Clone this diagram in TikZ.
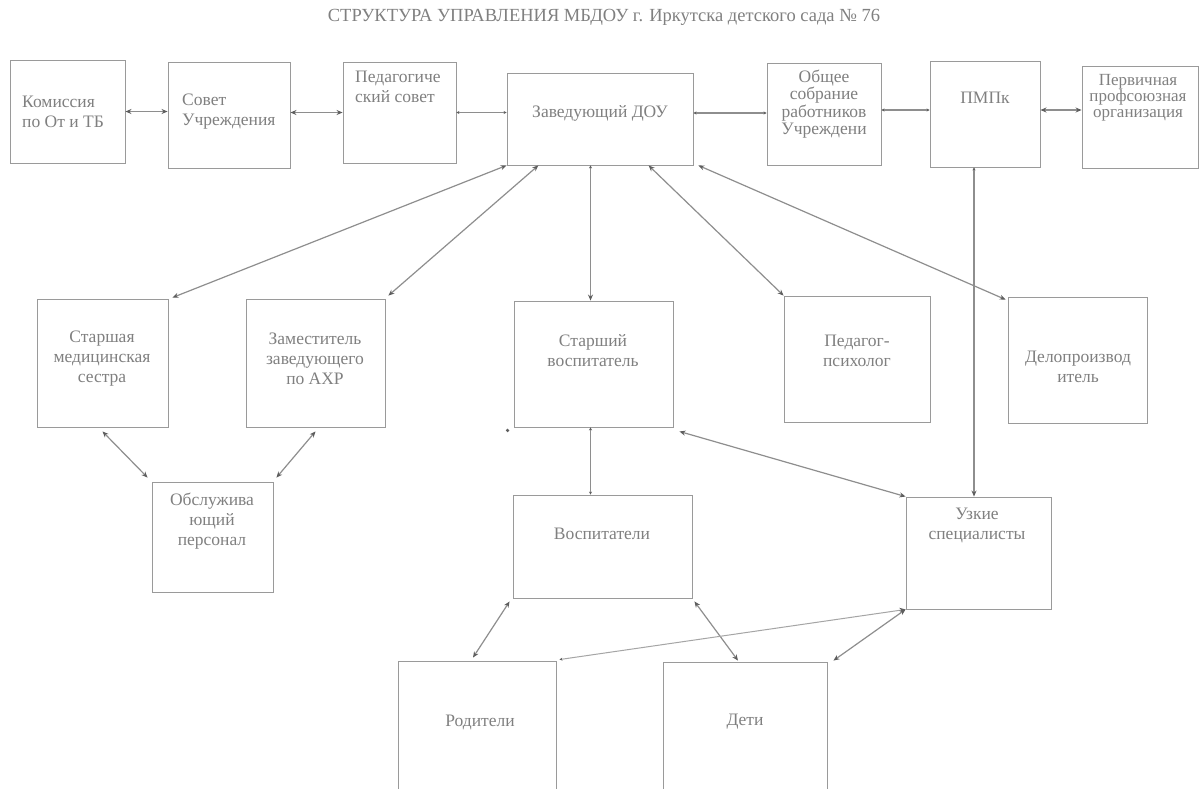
\documentclass[tikz,border=0pt]{standalone}
\usepackage{fontspec}
\setmainfont{Liberation Serif}
\usetikzlibrary{arrows.meta,calc}
\definecolor{ln}{HTML}{8E8E8E}
\definecolor{bx}{HTML}{9A9A9A}
\definecolor{tx}{HTML}{808080}
\definecolor{ah}{HTML}{5E5E5E}
\begin{document}
\begin{tikzpicture}[x=1pt,y=-1pt,
  box/.style={draw=bx, line width=0.9pt, rectangle, inner sep=0pt},
  lbl/.style={text=tx, font=\fontsize{17.5}{20}\selectfont, align=center, inner sep=0pt},
  con/.style={draw=ln, line width=1.2pt, {Stealth[length=6pt,width=5pt,color=ah]}-{Stealth[length=6pt,width=5pt,color=ah]}},
  tick/.style={draw=ln, line width=1.2pt, {Stealth[length=3pt,width=3pt,color=ah]}-{Stealth[length=3pt,width=3pt,color=ah]}},
  tickcon/.style={draw=ln, line width=1.2pt, {Stealth[length=3pt,width=3pt,color=ah]}-{Stealth[length=6pt,width=5pt,color=ah]}},
]
\useasboundingbox (0,0) rectangle (1202,788);
\fill[white] (0,0) rectangle (1202,788);
\clip (0,0) rectangle (1202,788);

% title
\node[text=tx, font=\fontsize{18.5}{20}\selectfont, inner sep=0pt] (title) at (604,17) {СТРУКТУРА УПРАВЛЕНИЯ МБДОУ г. Иркутска детского сада № 76};

% top row boxes
\node[box, minimum width=115, minimum height=103] (kom) at (67.5,111.5) {};
\node[box, minimum width=122, minimum height=106] (sov) at (229,115) {};
\node[box, minimum width=113, minimum height=101] (ped) at (399.5,112.5) {};
\node[box, minimum width=186, minimum height=92] (zav) at (600,119) {};
\node[box, minimum width=114, minimum height=102] (obs) at (824,114) {};
\node[box, minimum width=110, minimum height=106] (pmp) at (985,114) {};
\node[box, minimum width=116, minimum height=102] (prof) at (1140,117) {};

\node[lbl, align=left, anchor=west] (tkom) at (22,112) {Комиссия\\по От и ТБ};
\node[lbl, align=left, anchor=west] (tsov) at (182,112) {Совет\\Учреждения};
\node[lbl, align=left, anchor=west] (tped) at (355,87) {Педагогиче\\ский совет};
\node[lbl] (tzav) at (600,113) {Заведующий ДОУ};
\node[lbl, font=\fontsize{17.5}{17.5}\selectfont] (tobs) at (824,104) {Общее\\собрание\\работников\\Учреждени};
\node[lbl] (tpmp) at (985,98) {ПМПк};
\node[lbl, font=\fontsize{17}{16}\selectfont] (tprof) at (1138,98) {Первичная\\профсоюзная\\организация};

% second row
\node[box, minimum width=131, minimum height=128] (med) at (102.5,363) {};
\node[box, minimum width=139, minimum height=128] (zam) at (315.5,363) {};
\node[box, minimum width=121, minimum height=110] (obsl) at (212.5,537) {};
\node[box, minimum width=159, minimum height=126] (stv) at (593.5,364) {};
\node[box, minimum width=146, minimum height=126] (psy) at (857,359) {};
\node[box, minimum width=139, minimum height=126] (del) at (1077.5,360) {};

\node[lbl] (tmed) at (102,359) {Старшая\\медицинская\\сестра};
\node[lbl] (tzam) at (315,359) {Заместитель\\заведующего\\по АХР};
\node[lbl] (tobsl) at (212,521) {Обслужива\\ющий\\персонал};
\node[lbl] (tstv) at (593,351) {Старший\\воспитатель};
\node[lbl] (tpsy) at (857,351) {Педагог-\\психолог};
\node[lbl] (tdel) at (1078,367) {Делопроизвод\\итель};

% third row
\node[box, minimum width=179, minimum height=103] (vos) at (602.5,546.5) {};
\node[box, minimum width=145, minimum height=112] (uzk) at (978.5,553) {};
\node[lbl] (tvos) at (602,534) {Воспитатели};
\node[lbl] (tuzk) at (977,525) {Узкие\\специалисты};

% bottom row
\node[box, minimum width=158, minimum height=139] (rod) at (477,730.5) {};
\node[box, minimum width=164, minimum height=138] (det) at (745,731) {};
\node[lbl] (trod) at (480,722) {Родители};
\node[lbl] (tdet) at (745,722) {Дети};

% helper coordinates for connector ends
\coordinate (zavE) at ($(zav.east)+(0,-6)$);
\coordinate (obsE) at ($(obs.east)+(0,-4)$);
\coordinate (pmpE) at ($(pmp.east)+(0,-4)$);
\coordinate (stvN) at ($(stv.north)+(-3,0)$);
\coordinate (stvS) at ($(stv.south)+(-3,0)$);
\coordinate (pmpS) at ($(pmp.south)+(-11,0)$);

% top row connectors
\draw[con] (kom.east) -- (kom.east -| sov.west);
\draw[con] (ped.west -| sov.east) -- (ped.west);
\draw[tick] (ped.east) -- (ped.east -| zav.west);
\draw[tick] (zavE) -- (zavE -| obs.west);
\draw[tick] (obsE) -- (obsE -| pmp.west);
\draw[con] (pmpE) -- (pmpE -| prof.west);

% from Заведующий
\draw[con] (zav.south west) -- ($(med.north east)+(4,-1)$);
\draw[con] ($(zav.south west)!0.17!(zav.south east)$) -- ($(zam.north east)+(3,-3)$);
\draw[tickcon] (stvN |- zav.south) -- (stvN);
\draw[con] ($(zav.south west)!0.76!(zav.south east)$) -- (psy.north west);
\draw[con] ($(zav.south east)+(5,0)$) -- ($(del.north west)+(-2,3)$);

% ПМПк down to Узкие специалисты
\draw[tickcon] (pmpS) -- (pmpS |- uzk.north);

% Обслуживающий персонал
\draw[con] ($(med.south)+(0,4)$) -- ($(obsl.north west)+(-4,-4)$);
\draw[con] ($(zam.south)+(0,4)$) -- ($(obsl.north east)+(3,-4)$);

% Старший воспитатель
\draw[tick] (stvS) -- (stvS |- vos.north);
\draw[con] ($(stv.south east)+(6,4)$) -- (uzk.north west);
\fill[ah] ($(stv.south west)+(-6,3)$) circle (1.8pt);

% Воспитатели / Узкие -> Родители, Дети
\draw[con] ($(vos.south west)+(-3,3)$) -- ($(rod.north)+(-4,-3)$);
\draw[con] ($(vos.south east)+(2,3)$) -- ($(det.north)+(-7,-1)$);
\draw[draw=ln!80, line width=1pt, {Stealth[length=3pt,width=3pt,color=ah]}-{Stealth[length=6pt,width=5pt,color=ah]}] ($(rod.north east)+(3,-1)$) -- (uzk.south west);
\draw[con] ($(det.north east)+(6,-1)$) -- (uzk.south west);
\end{tikzpicture}
\end{document}
